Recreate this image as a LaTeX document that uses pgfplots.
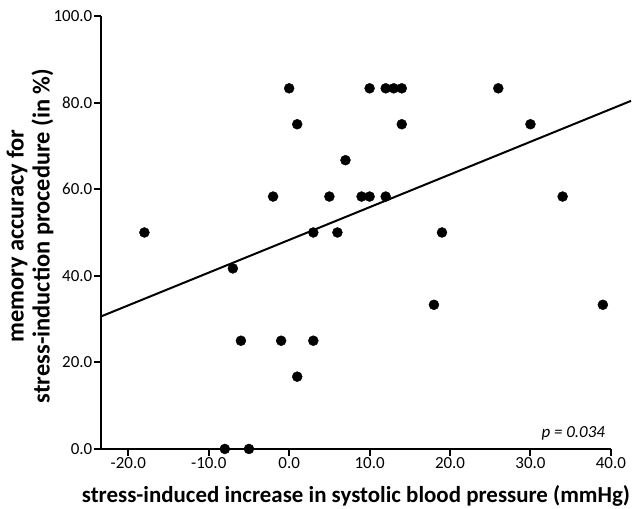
\documentclass[border=0pt]{standalone}
\usepackage{fontspec}
\setmainfont{Carlito}
\usepackage{pgfplots}
\pgfplotsset{compat=1.18}

\begin{document}
\begin{tikzpicture}
\begin{axis}[
    scale only axis,
    width=510bp, height=433bp,
    xmin=-23.4, xmax=40,
    ymin=0, ymax=100,
    axis lines=left,
    axis line style={line width=2bp, -},
    tick align=outside,
    major tick length=7bp,
    tick style={line width=2bp, black},
    xtick={-20,-10,...,40},
    ytick={0,20,...,100},
    tick label style={font=\fontsize{17}{19}\selectfont, inner sep=1.5bp},
    /pgf/number format/.cd, fixed, fixed zerofill, precision=1, assume math mode=true,
    /pgfplots/.cd,
    xlabel={stress-induced increase in systolic blood pressure (mmHg)},
    xlabel style={font=\fontsize{23}{26}\selectfont\bfseries, inner sep=0pt,
        at={(axis description cs:0.5,-0.1247)}, anchor=base},
    ylabel={memory accuracy for\\stress-induction procedure (in \%)},
    ylabel style={font=\fontsize{24.5}{26}\selectfont\bfseries, align=center, inner sep=0pt,
        at={(axis description cs:-0.139,0.492)}, anchor=center},
    clip=false,
]
\addplot[only marks, mark=*, mark size=5bp, black] table {
x y
-18 50
-8 0
-7 41.7
-6 25
-5 0
-2 58.3
-1 25
0 83.3
1 75
1 16.7
3 50
3 25
5 58.3
6 50
7 66.7
9 58.3
10 83.3
10 58.3
12 83.3
12 58.3
13 83.3
14 83.3
14 75
18 33.3
19 50
26 83.3
30 75
34 58.3
39 33.3
};
\addplot[black, line width=2bp, no marks] coordinates {(-23.4,30.6) (42.5,80.4)};
\node[anchor=east, font=\fontsize{17}{19}\selectfont\itshape] at (axis cs:39.7,3.6) {p = 0.034};
\path (axis description cs:-0.198,-0.1386) rectangle (axis description cs:1.041,1.037);
\end{axis}
\end{tikzpicture}
\end{document}
